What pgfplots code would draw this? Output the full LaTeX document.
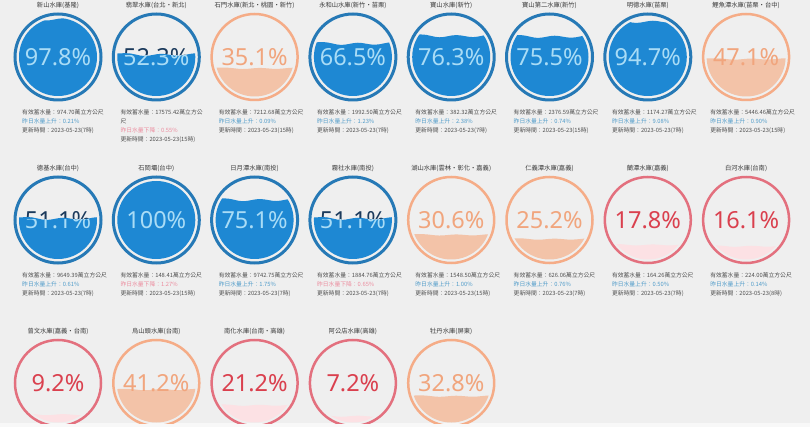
\documentclass[border=0pt]{standalone}
\usepackage{fontspec}
\setmainfont{Noto Sans}
\newfontfamily\cjk{Noto Sans CJK TC}
\usepackage{pgfplots}
\pgfplotsset{compat=1.18}

\definecolor{bg}{HTML}{EFEFEF}
\definecolor{bgbot}{HTML}{F8F8F8}
\definecolor{ringb}{HTML}{2679B6}
\definecolor{fillb}{HTML}{1E88D3}
\definecolor{lightb}{HTML}{A9DCF6}
\definecolor{darkb}{HTML}{1B3A5C}
\definecolor{ringo}{HTML}{F5AC87}
\definecolor{fillo}{HTML}{F3C3A8}
\definecolor{texto}{HTML}{F1A57D}
\definecolor{ringr}{HTML}{E3707E}
\definecolor{fillr}{HTML}{FCE1E4}
\definecolor{textr}{HTML}{DA404E}
\definecolor{titc}{HTML}{3A3A3A}
\definecolor{infoc}{HTML}{505050}
\definecolor{upc}{HTML}{4F9BC9}
\definecolor{dnc}{HTML}{EC8C9E}

\newcommand\pctfont{\fontsize{23.5}{24}\selectfont}
\newcommand\up[1]{\textcolor{upc}{昨日水量上升：#1\%}}
\newcommand\dn[1]{\textcolor{dnc}{昨日水量下降：#1\%}}

% light copy of the percentage, only where the water is
\newcommand\lighttext[3]{\node[font=\pctfont, text=lightb] at (axis cs:#1,#2) {#3\%};}

% water body: #1 cx, #2 cy, #3 percent, #4 fill colour, #5 wave height, #6 b = blue text split
\newcommand\water[6]{%
  \pgfmathsetmacro\lev{#2+39-0.78*#3}%
  \pgfmathsetmacro\wa{\lev-#5}%
  \pgfmathsetmacro\wb{\lev+0.4*#5}%
  \pgfmathsetmacro\wc{\lev-0.7*#5}%
  \pgfmathsetmacro\wd{\lev+0.3*#5}%
  \pgfmathsetmacro\xa{#1-60}\pgfmathsetmacro\xb{#1-30}%
  \pgfmathsetmacro\xc{#1-12}\pgfmathsetmacro\xd{#1+5}%
  \pgfmathsetmacro\xe{#1+22}\pgfmathsetmacro\xf{#1+40}%
  \pgfmathsetmacro\xg{#1+60}\pgfmathsetmacro\bot{#2+60}%
  \edef\next{%
    \noexpand\addplot[draw=none, fill=#4, smooth, tension=0.6] coordinates {%
      (\xa,\lev) (\xb,\wa) (\xc,\wb) (\xd,\wc) (\xe,\wd) (\xf,\wa) (\xg,\lev)
      (\xg,\bot) (\xa,\bot)};%
    \if b#6
    \noexpand\begin{scope}
      \noexpand\clip (axis cs:\xa,\lev) rectangle (axis cs:\xg,\bot);
      \noexpand\lighttext{#1}{#2}{#3}
    \noexpand\end{scope}
    \fi
  }\next
}

% #1 cx, #2 cy, #3 percent, #4 scheme b/o/r, #5 name, #6 volume, #7 trend line, #8 hour
\newcommand\gauge[8]{%
  \node[font=\cjk\fontsize{6.3}{7}\selectfont, text=titc] at (axis cs:#1,#2-52) {#5};
  \if b#4
    \addplot[only marks, mark=o, mark size=43, mark options={draw=ringb, line width=3}]
      coordinates {(#1,#2)};
    \node[font=\pctfont, text=darkb] at (axis cs:#1,#2) {#3\%};
    \begin{scope}
      \clip (axis cs:#1,#2) circle[radius=39pt];
      \water{#1}{#2}{#3}{fillb}{2}{b}
    \end{scope}
  \else
    \addplot[only marks, mark=o, mark size=43, mark options={draw=ring#4, line width=2.5}]
      coordinates {(#1,#2)};
    \begin{scope}
      \clip (axis cs:#1,#2) circle[radius=39.5pt];
      \water{#1}{#2}{#3}{fill#4}{1}{n}
    \end{scope}
    \node[font=\pctfont, text=text#4] at (axis cs:#1,#2) {#3\%};
  \fi
  \ifx\relax#6\relax\else
  \node[anchor=north west, inner sep=0, align=left, font=\cjk\fontsize{5.8}{9}\selectfont,
    text=infoc] at (axis cs:#1-36,#2+52) {有效蓄水量：#6\\#7\\更新時間：2023-05-23(#8時)};
  \fi
}

\begin{document}
\begin{tikzpicture}
\fill[bgbot] (0,-4pt) rectangle (810pt,0pt);
\fill[bg] (0,0) rectangle (810pt,423pt);
\begin{axis}[
    at={(0,0)}, anchor=south west,
    scale only axis, width=810pt, height=423pt,
    xmin=0, xmax=810, ymin=0, ymax=423,
    y dir=reverse,
    hide axis,
    clip marker paths=true,
]
% row 1
\gauge{58}{57}{97.8}{b}{新山水庫(基隆)}{974.70萬立方公尺}{\up{0.21}}{7}
\gauge{156.3}{57}{52.3}{b}{翡翠水庫(台北・新北)}{17575.42萬立方公\\尺}{\dn{0.55}}{15}
\gauge{254.6}{57}{35.1}{o}{石門水庫(新北・桃園・新竹)}{7212.68萬立方公尺}{\up{0.09}}{15}
\gauge{352.9}{57}{66.5}{b}{永和山水庫(新竹・苗栗)}{1992.50萬立方公尺}{\up{1.23}}{7}
\gauge{451.2}{57}{76.3}{b}{寶山水庫(新竹)}{382.32萬立方公尺}{\up{2.38}}{7}
\gauge{549.5}{57}{75.5}{b}{寶山第二水庫(新竹)}{2376.59萬立方公尺}{\up{0.74}}{15}
\gauge{647.8}{57}{94.7}{b}{明德水庫(苗栗)}{1174.27萬立方公尺}{\up{9.08}}{7}
\gauge{746.1}{57}{47.1}{o}{鯉魚潭水庫(苗栗・台中)}{5446.46萬立方公尺}{\up{0.90}}{15}
% row 2
\gauge{58}{220}{51.1}{b}{德基水庫(台中)}{9649.39萬立方公尺}{\up{0.61}}{7}
\gauge{156.3}{220}{100}{b}{石岡壩(台中)}{148.41萬立方公尺}{\dn{1.27}}{15}
\gauge{254.6}{220}{75.1}{b}{日月潭水庫(南投)}{9742.75萬立方公尺}{\up{1.75}}{7}
\gauge{352.9}{220}{51.1}{b}{霧社水庫(南投)}{1884.76萬立方公尺}{\dn{0.65}}{7}
\gauge{451.2}{220}{30.6}{o}{湖山水庫(雲林・彰化・嘉義)}{1548.50萬立方公尺}{\up{1.00}}{15}
\gauge{549.5}{220}{25.2}{o}{仁義潭水庫(嘉義)}{626.06萬立方公尺}{\up{0.76}}{7}
\gauge{647.8}{220}{17.8}{r}{蘭潭水庫(嘉義)}{164.26萬立方公尺}{\up{0.50}}{7}
\gauge{746.1}{220}{16.1}{r}{白河水庫(台南)}{224.00萬立方公尺}{\up{0.14}}{8}
% row 3 (its details lie below the visible part)
\gauge{58}{383}{9.2}{r}{曾文水庫(嘉義・台南)}{}{}{}
\gauge{156.3}{383}{41.2}{o}{烏山頭水庫(台南)}{}{}{}
\gauge{254.6}{383}{21.2}{r}{南化水庫(台南・高雄)}{}{}{}
\gauge{352.9}{383}{7.2}{r}{阿公店水庫(高雄)}{}{}{}
\gauge{451.2}{383}{32.8}{o}{牡丹水庫(屏東)}{}{}{}
\end{axis}
\end{tikzpicture}
\end{document}
